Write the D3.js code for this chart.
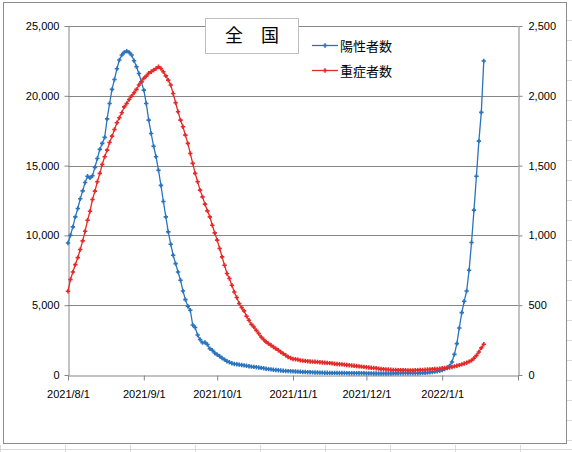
<!DOCTYPE html>
<html><head><meta charset="utf-8">
<script src="https://cdn.jsdelivr.net/npm/d3@7"></script>
<style>body{margin:0;background:#fff}</style></head>
<body><svg id="c" width="572" height="452"></svg>
<script>
const startDate = "2021-08-01";
const positives = [
9460,10010,10610,11330,11930,12620,13190,13790,14240,14120,
14270,14870,15510,16160,16590,17020,18350,19450,20460,21170,
21940,22560,22920,23110,23200,23110,22920,22510,22080,21600,
21000,20410,19450,18260,17300,16390,15630,14670,13580,12430,
11330,10250,9370,8580,7980,7380,6790,
6020,5400,4920,4640,3580,3400,2870,2540,2320,2340,2180,1890,1770,1580,1460,1340,1220,1100,980,910,840,790,770,
740,720,690,660,630,600,580,560,540,510,480,450,420,400,380,360,340,320,300,290,
280,270,260,250,240,230,220,210,200,200,190,180,180,170,170,160,160,150,150,150,
150,145,140,140,135,130,130,125,125,120,120,120,115,115,115,110,110,110,110,110,
110,110,110,115,115,115,120,120,120,120,
120,120,130,130,140,150,160,170,190,210,240,270,300,350,420,500,650,
930,1480,2250,3370,4470,5280,6020,7500,9490,11810,14240,16750,18810,22490];
const severe = [
600,684,738,791,841,899,961,1030,1109,1173,1257,1317,1384,1444,1508,1563,1611,1666,1711,1759,
1807,1843,1879,1921,1945,1974,1998,2022,2046,2077,2101,2125,2141,2161,2172,2184,2196,2208,2196,2172,
2143,2112,2077,2017,1950,1886,1826,1778,1718,1659,1587,1516,1444,1384,1324,1276,1224,1176,1133,1073,
1018,966,906,846,786,727,
691,643,595,555,512,483,459,421,392,363,344,320,297,272,254,237,225,213,201,189,
177,165,153,141,129,122,115,113,110,105,103,101,99,97,96,95,93,91,90,89,
87,85,83,81,79,77,76,74,72,70,68,
66,64,62,60,58,56,54,52,50,48,46,44,42,40,39,38,37,36,35,35,34,34,33,33,33,
34,35,36,37,38,39,40,42,43,44,46,48,50,52,54,57,
62,66,71,76,82,88,96,105,120,140,165,194,220,237];
const xTickLabels = ["2021/8/1","2021/9/1","2021/10/1","2021/11/1","2021/12/1","2022/1/1"];
const leftTicks = [0,5000,10000,15000,20000,25000];
const rightTicks = [0,500,1000,1500,2000,2500];
const seriesNames = ["陽性者数","重症者数"];
const title = "全　国";

const svg = d3.select("#c");
const font = "'Liberation Sans', Arial, sans-serif";
const parse = d3.timeParse("%Y-%m-%d");
const d0 = parse(startDate);
const dates = positives.map((_, i) => d3.timeDay.offset(d0, i));
const tickDates = xTickLabels.map(s => d3.timeParse("%Y/%m/%d")(s));

// spreadsheet background grid
const g0 = svg.append("g").attr("stroke","#dadada");
[0,65,130,195,260,325,390,455,520].forEach(x=>g0.append("line").attr("x1",x+0.5).attr("x2",x+0.5).attr("y1",445).attr("y2",452));
g0.append("line").attr("x1",0).attr("x2",572).attr("y1",449.5).attr("y2",449.5);
[20,40,60,80,100,120,140,160,180,200,220,240,260,280,300,320,340,360,380,400,420,440].forEach(y=>g0.append("line").attr("x1",567).attr("x2",572).attr("y1",y+0.5).attr("y2",y+0.5));
svg.append("rect").attr("x",3.5).attr("y",2.5).attr("width",563).attr("height",441).attr("fill","#fff").attr("stroke","#8c8c8c");

const x = d3.scaleTime().domain([parse("2021-08-01"), parse("2022-02-01")]).range([68, 518]);
const yL = d3.scaleLinear().domain([0,25000]).range([375,26]);
const yR = d3.scaleLinear().domain([0,2500]).range([375,26]);

// gridlines
svg.append("g").selectAll("line").data(leftTicks.slice(1)).join("line")
  .attr("x1",68).attr("x2",518).attr("y1",d=>Math.round(yL(d))+0.5).attr("y2",d=>Math.round(yL(d))+0.5)
  .attr("stroke","#868686");

function style(g){ g.selectAll("path.domain").attr("stroke","#868686"); g.selectAll(".tick line").attr("stroke","#868686");
  g.selectAll("text").attr("font-family",font).attr("font-size",11).attr("fill","#000"); }
svg.append("g").attr("transform","translate(68.5,0)")
  .call(d3.axisLeft(yL).tickValues(leftTicks).tickSize(4).tickSizeOuter(0).tickPadding(5)).call(style);
svg.append("g").attr("transform","translate(518.5,0)")
  .call(d3.axisRight(yR).tickValues(rightTicks).tickSize(4).tickSizeOuter(0).tickPadding(6)).call(style);
const xa = svg.append("g").attr("transform","translate(0,375.5)")
  .call(d3.axisBottom(x).tickValues(tickDates.concat([parse("2022-02-01")])).tickSize(5).tickSizeOuter(0).tickPadding(10)
  .tickFormat((d,i)=> xTickLabels[i] || "")).call(style);
xa.selectAll("text").attr("font-weight","normal");

function drawSeries(vals, yS, color){
  const pts = vals.map((v,i)=>[x(dates[i]), yS(v)]);
  svg.append("path").attr("d", d3.line()(pts)).attr("fill","none").attr("stroke",color).attr("stroke-width",1.3);
  svg.append("g").selectAll("path").data(pts).join("path")
    .attr("d",p=>`M${p[0]-2.2},${p[1]}H${p[0]+2.2}M${p[0]},${p[1]-2.2}V${p[1]+2.2}`)
    .attr("stroke",color).attr("stroke-width",1.6);
}
const blue = "#2a74bf", red = "#e52a2a";
drawSeries(positives, yL, blue);
drawSeries(severe, yR, red);

// title box
svg.append("rect").attr("x",205.5).attr("y",18.5).attr("width",93).attr("height",35).attr("fill","#fff").attr("stroke","#bfbfbf");
svg.append("text").attr("x",252).attr("y",42).attr("text-anchor","middle").attr("font-size",18)
  .attr("font-family","'Noto Sans CJK JP', sans-serif").text(title);

// legend
[[blue,45.5],[red,70.5]].forEach(([c,yy],i)=>{
  svg.append("line").attr("x1",312).attr("x2",338).attr("y1",yy).attr("y2",yy).attr("stroke",c).attr("stroke-width",1.3);
  svg.append("path").attr("d",`M322.8,${yy}H327.2M325,${yy-2.2}V${yy+2.2}`).attr("stroke",c).attr("stroke-width",1.6);
  svg.append("text").attr("x",340).attr("y",yy+5).attr("font-size",13)
    .attr("font-family","'Noto Sans CJK JP', sans-serif").text(seriesNames[i]);
});
</script></body></html>
